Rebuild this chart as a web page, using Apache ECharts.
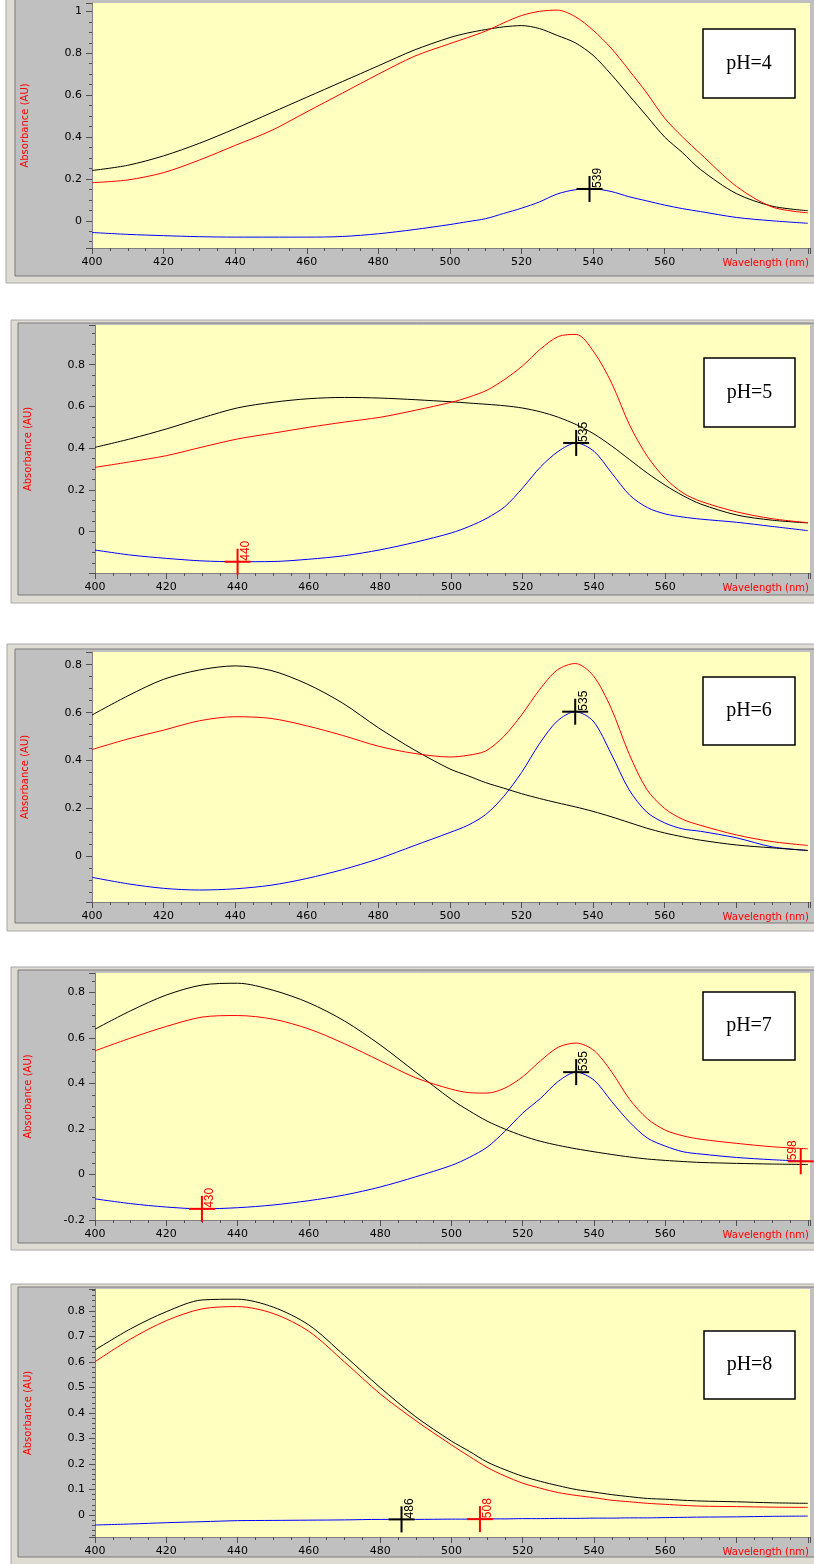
<!DOCTYPE html>
<html><head><meta charset="utf-8">
<script src="https://cdn.jsdelivr.net/npm/echarts@6/dist/echarts.min.js"></script>
<style>html,body{margin:0;padding:0;background:#fff;overflow:hidden}#c{width:814px;height:1564px;}</style>
</head><body><div id="c"></div>
<script>
// ---- data ----
const wavelengths = [400,410,420,430,440,450,460,470,480,490,500,505,510,515,520,525,530,535,540,545,550,555,560,565,570,580,590,600];
const xTickLabels = [400,420,440,460,480,500,520,540,560];
const panelTitles = ['pH=4','pH=5','pH=6','pH=7','pH=8'];

const ph4Black = [0.24,0.265,0.31,0.37,0.44,0.515,0.59,0.665,0.74,0.815,0.875,0.897,0.913,0.926,0.932,0.918,0.885,0.85,0.79,0.70,0.60,0.50,0.40,0.325,0.245,0.13,0.07,0.048];
const ph4Red   = [0.182,0.195,0.23,0.29,0.36,0.43,0.52,0.61,0.70,0.785,0.846,0.875,0.906,0.945,0.98,1.0,1.006,0.975,0.91,0.825,0.72,0.61,0.49,0.40,0.32,0.165,0.066,0.038];
const ph4Blue  = [-0.056,-0.065,-0.071,-0.076,-0.078,-0.078,-0.078,-0.075,-0.062,-0.042,-0.018,-0.004,0.01,0.035,0.06,0.09,0.128,0.148,0.152,0.14,0.115,0.095,0.075,0.058,0.044,0.016,0.0,-0.012];

const ph5Black = [0.404,0.445,0.492,0.545,0.593,0.62,0.637,0.643,0.64,0.632,0.622,0.616,0.61,0.603,0.592,0.574,0.548,0.513,0.468,0.41,0.345,0.28,0.222,0.172,0.132,0.08,0.055,0.042];
const ph5Red   = [0.308,0.335,0.364,0.405,0.444,0.472,0.5,0.525,0.548,0.582,0.62,0.645,0.678,0.73,0.795,0.875,0.935,0.945,0.86,0.71,0.51,0.36,0.255,0.185,0.145,0.095,0.062,0.043];
const ph5Blue  = [-0.088,-0.112,-0.128,-0.14,-0.144,-0.143,-0.132,-0.115,-0.087,-0.05,-0.006,0.025,0.065,0.12,0.21,0.31,0.385,0.425,0.385,0.28,0.175,0.115,0.085,0.07,0.06,0.045,0.025,0.005];

const ph6Black = [0.59,0.67,0.739,0.778,0.795,0.776,0.72,0.64,0.537,0.445,0.365,0.337,0.308,0.285,0.262,0.242,0.224,0.207,0.188,0.166,0.142,0.118,0.098,0.082,0.068,0.048,0.036,0.025];
const ph6Red   = [0.446,0.49,0.527,0.566,0.583,0.576,0.545,0.505,0.46,0.43,0.415,0.422,0.44,0.5,0.59,0.695,0.778,0.805,0.755,0.62,0.43,0.28,0.2,0.155,0.13,0.09,0.062,0.046];
const ph6Blue  = [-0.087,-0.114,-0.133,-0.14,-0.135,-0.12,-0.092,-0.055,-0.01,0.045,0.1,0.13,0.175,0.25,0.35,0.47,0.565,0.604,0.565,0.43,0.28,0.185,0.14,0.115,0.105,0.078,0.04,0.025];

const ph7Black = [0.639,0.72,0.789,0.833,0.841,0.81,0.755,0.675,0.57,0.45,0.33,0.28,0.235,0.2,0.17,0.146,0.128,0.113,0.1,0.088,0.077,0.068,0.062,0.057,0.053,0.049,0.046,0.044];
const ph7Red   = [0.544,0.6,0.651,0.692,0.699,0.683,0.64,0.575,0.5,0.425,0.375,0.36,0.358,0.38,0.43,0.5,0.56,0.578,0.545,0.45,0.33,0.245,0.195,0.17,0.155,0.137,0.122,0.113];
const ph7Blue  = [-0.107,-0.128,-0.143,-0.151,-0.146,-0.134,-0.115,-0.09,-0.055,-0.01,0.04,0.075,0.12,0.19,0.27,0.335,0.41,0.45,0.415,0.32,0.23,0.16,0.125,0.1,0.09,0.075,0.065,0.058];

const ph8Black = [0.647,0.73,0.797,0.843,0.846,0.815,0.745,0.625,0.5,0.385,0.29,0.25,0.208,0.178,0.152,0.132,0.115,0.1,0.09,0.08,0.072,0.065,0.062,0.058,0.055,0.052,0.048,0.046];
const ph8Red   = [0.601,0.69,0.762,0.808,0.817,0.79,0.72,0.6,0.475,0.37,0.275,0.23,0.187,0.153,0.125,0.105,0.088,0.077,0.068,0.058,0.052,0.046,0.042,0.038,0.035,0.033,0.031,0.03];
const ph8Blue  = [-0.039,-0.035,-0.03,-0.026,-0.022,-0.021,-0.02,-0.019,-0.017,-0.017,-0.016,-0.016,-0.015,-0.015,-0.014,-0.014,-0.013,-0.013,-0.012,-0.012,-0.011,-0.011,-0.01,-0.009,-0.008,-0.007,-0.005,-0.004];

// cursor markers: wavelength, absorbance, cursor (0 = black cursor, 1 = red cursor)
const ph4MarkWl = [539],           ph4MarkAbs = [0.152],              ph4MarkCursor = [0];
const ph5MarkWl = [440, 535],      ph5MarkAbs = [-0.144, 0.425],      ph5MarkCursor = [1, 0];
const ph6MarkWl = [535],           ph6MarkAbs = [0.604],              ph6MarkCursor = [0];
const ph7MarkWl = [430, 535, 598], ph7MarkAbs = [-0.151, 0.45, 0.058], ph7MarkCursor = [1, 0, 1];
const ph8MarkWl = [486, 508],      ph8MarkAbs = [-0.017, -0.016],     ph8MarkCursor = [0, 1];

// y axis ranges and label steps
const yMin  = [-0.13, -0.198, -0.19, -0.2, -0.086];
const yMax  = [1.04, 0.99, 0.853, 0.886, 0.886];
const yStep = [0.2, 0.2, 0.2, 0.2, 0.1];

// ---- layout (positions / styles only) ----
const layout = [
  {grid:[92,3,718,245],   outer:[6,-5,810,288],   inner:[15,-5,800,281],  box:[703,29,92,69]},
  {grid:[95,325,715,248], outer:[11,320,805,283], inner:[18,323,798,272], box:[704,358,91,69]},
  {grid:[92,652,718,250], outer:[7,644,809,287],  inner:[15,649,801,274], box:[703,677,92,68]},
  {grid:[95,973,715,247], outer:[11,967,805,283], inner:[18,970,798,273], box:[703,992,92,68]},
  {grid:[95,1289,715,248],outer:[11,1284,805,282],inner:[18,1287,798,270],box:[704,1331,91,68]}
];
const curveColors = {black:'#000000', red:'#ff0000', blue:'#0000ff'};
const cursorColors = ['#000000', '#ff0000'];
const FONT = '"DejaVu Sans", Verdana, sans-serif';

const curves = [
  {black:ph4Black, red:ph4Red, blue:ph4Blue, mw:ph4MarkWl, ma:ph4MarkAbs, mc:ph4MarkCursor},
  {black:ph5Black, red:ph5Red, blue:ph5Blue, mw:ph5MarkWl, ma:ph5MarkAbs, mc:ph5MarkCursor},
  {black:ph6Black, red:ph6Red, blue:ph6Blue, mw:ph6MarkWl, ma:ph6MarkAbs, mc:ph6MarkCursor},
  {black:ph7Black, red:ph7Red, blue:ph7Blue, mw:ph7MarkWl, ma:ph7MarkAbs, mc:ph7MarkCursor},
  {black:ph8Black, red:ph8Red, blue:ph8Blue, mw:ph8MarkWl, ma:ph8MarkAbs, mc:ph8MarkCursor}
];

const grids = [], xAxes = [], yAxes = [], series = [], graphics = [];

layout.forEach((L, i) => {
  const [gl, gt, gw, gh] = L.grid;
  grids.push({left:gl, top:gt, width:gw, height:gh, show:true, backgroundColor:'#ffffc0', borderWidth:0, outerBoundsMode:'none', containLabel:false});
  xAxes.push({
    type:'value', gridIndex:i, min:400, max:600.6, interval:20,
    name:'Wavelength (nm)', nameLocation:'end', nameGap:-1, nameMoveOverlap:false,
    nameTextStyle:{color:'#ff0000', fontSize:10, fontFamily:FONT, align:'right', verticalAlign:'top', padding:[10,0,0,0]},
    axisLine:{show:true, onZero:false, lineStyle:{color:'#808080', width:1}},
    axisTick:{show:true, inside:false, length:6, lineStyle:{color:'#505050'}},
    minorTick:{show:true, splitNumber:4, length:3, lineStyle:{color:'#505050'}},
    splitLine:{show:false}, minorSplitLine:{show:false},
    axisLabel:{color:'#000', fontSize:11, fontFamily:FONT, margin:9, showMaxLabel:false,
      formatter: v => xTickLabels.indexOf(Math.round(v*1000)/1000) >= 0 ? String(v) : ''}
  });
  const step = yStep[i];
  yAxes.push({
    type:'value', gridIndex:i, min:yMin[i], max:yMax[i], splitNumber: step === 0.1 ? 10 : 5,
    name:'Absorbance (AU)', nameLocation:'middle', nameGap:62, nameRotate:90, nameMoveOverlap:false,
    nameTextStyle:{color:'#ff0000', fontSize:10, fontFamily:FONT},
    axisLine:{show:true, onZero:false, lineStyle:{color:'#808080', width:1}},
    axisTick:{show:true, inside:false, length:6, lineStyle:{color:'#505050'}},
    minorTick:{show:true, splitNumber: step === 0.1 ? 5 : 4, length:3, lineStyle:{color:'#505050'}},
    splitLine:{show:false}, minorSplitLine:{show:false},
    axisLabel:{color:'#000', fontSize:11, fontFamily:FONT, margin:10,
      formatter: v => {
        const k = v / step;
        if (Math.abs(k - Math.round(k)) > 1e-6) return '';
        const r = Math.round(v * 10) / 10;
        return String(Math.abs(r) < 1e-9 ? 0 : r);
      }}
  });
  const C = curves[i];
  ['blue','black','red'].forEach(name => {
    series.push({
      type:'line', xAxisIndex:i, yAxisIndex:i, name: name + i,
      data: wavelengths.map((w, k) => [w, C[name][k]]),
      showSymbol:false, smooth:0.3, animation:false, silent:true,
      lineStyle:{color:curveColors[name], width:1}, z:3
    });
  });
  series.push({
    type:'custom', xAxisIndex:i, yAxisIndex:i, animation:false, silent:true, z:10, clip:false,
    encode:{x:0, y:1},
    data: C.mw.map((w, k) => [w, C.ma[k], C.mc[k]]),
    renderItem: (params, api) => {
      const w = api.value(0);
      const p = api.coord([w, api.value(1)]);
      const col = cursorColors[api.value(2)];
      const cs = params.coordSys;
      const flip = p[0] > cs.x + cs.width - 20;
      return {type:'group', children:[
        {type:'line', shape:{x1:p[0]-13, y1:p[1], x2:p[0]+13, y2:p[1]}, style:{stroke:col, lineWidth:2}},
        {type:'line', shape:{x1:p[0], y1:p[1]-13, x2:p[0], y2:p[1]+13}, style:{stroke:col, lineWidth:2}},
        {type:'text', x: flip ? p[0]-2 : p[0]+2, y: p[1]-1, rotation: Math.PI/2,
          style:{text:String(Math.round(w)), fill:col, fontSize:12, fontFamily:'"Liberation Sans", Arial, sans-serif',
                 align:'left', verticalAlign: flip ? 'bottom' : 'top'}}
      ]};
    }
  });
  // panel chrome
  const [ox, oy, ow, oh] = L.outer, [ix, iy, iw, ih] = L.inner, [bx, by, bw, bh] = L.box;
  graphics.push({type:'rect', z:-20, shape:{x:ox, y:oy, width:ow, height:oh}, style:{fill:'#dedbd3', stroke:'#a8a8a8', lineWidth:1}});
  graphics.push({type:'rect', z:-19, shape:{x:ix, y:iy, width:iw, height:ih}, style:{fill:'#c0c0c0', stroke:'#7a7a7a', lineWidth:1}});
  graphics.push({type:'rect', z:50, shape:{x:bx, y:by, width:bw, height:bh}, style:{fill:'#ffffff', stroke:'#000000', lineWidth:1.5}});
  graphics.push({type:'text', z:51, x:bx + bw/2, y:by + bh/2,
    style:{text:panelTitles[i], fill:'#000', fontSize:20, fontFamily:'"Liberation Serif", "Times New Roman", serif', align:'center', verticalAlign:'middle'}});
});

const chart = echarts.init(document.getElementById('c'), null, {renderer:'canvas', width:814, height:1564});
chart.setOption({
  animation:false,
  backgroundColor:'#ffffff',
  grid:grids, xAxis:xAxes, yAxis:yAxes, series:series,
  graphic:{elements:graphics}
});
</script>
</body></html>
